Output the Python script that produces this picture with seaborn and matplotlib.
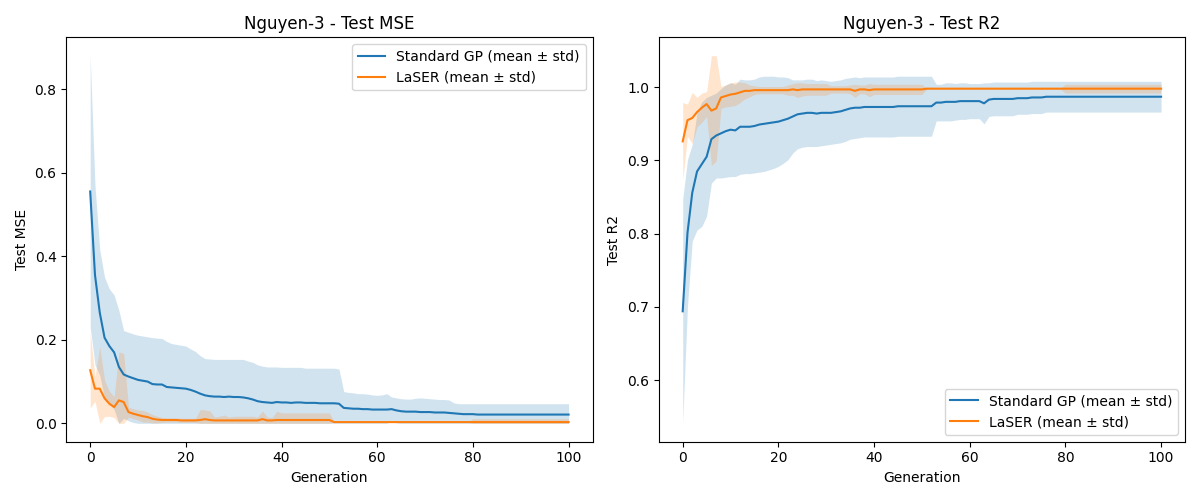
import numpy as np
import matplotlib
matplotlib.use("Agg")
import matplotlib.pyplot as plt
import seaborn as sns

generations = list(range(101))

# Test MSE - Standard GP
gp_mse_mean = [
    0.555, 0.355, 0.265, 0.205, 0.185, 0.170, 0.135, 0.117, 0.112, 0.108,
    0.104, 0.102, 0.100, 0.094, 0.093, 0.093, 0.087, 0.086, 0.085, 0.084,
    0.083, 0.080, 0.076, 0.071, 0.067, 0.065, 0.064, 0.064, 0.063, 0.064,
    0.063, 0.063, 0.062, 0.060, 0.057, 0.053, 0.051, 0.050, 0.049, 0.051,
    0.050, 0.050, 0.049, 0.050, 0.050, 0.049, 0.049, 0.049, 0.048, 0.048,
    0.048, 0.048, 0.047, 0.037, 0.036, 0.035, 0.035, 0.034, 0.034, 0.033,
    0.033, 0.033, 0.033, 0.034, 0.031, 0.029, 0.028, 0.028, 0.028, 0.027,
    0.027, 0.027, 0.026, 0.026, 0.026, 0.025, 0.024, 0.023, 0.022, 0.022,
    0.022, 0.021, 0.021, 0.021, 0.021, 0.021, 0.021, 0.021, 0.021, 0.021,
    0.021, 0.021, 0.021, 0.021, 0.021, 0.021, 0.021, 0.021, 0.021, 0.021,
    0.021,
]
gp_mse_std = [
    0.325, 0.215, 0.150, 0.145, 0.137, 0.137, 0.135, 0.105, 0.106, 0.106,
    0.107, 0.107, 0.107, 0.111, 0.111, 0.110, 0.109, 0.105, 0.104, 0.103,
    0.102, 0.098, 0.096, 0.091, 0.088, 0.089, 0.089, 0.089, 0.090, 0.089,
    0.090, 0.090, 0.091, 0.089, 0.089, 0.087, 0.086, 0.085, 0.086, 0.084,
    0.084, 0.084, 0.085, 0.084, 0.084, 0.083, 0.083, 0.083, 0.084, 0.084,
    0.084, 0.084, 0.083, 0.039, 0.038, 0.038, 0.036, 0.037, 0.036, 0.035,
    0.034, 0.035, 0.038, 0.029, 0.030, 0.030, 0.030, 0.030, 0.032, 0.034,
    0.033, 0.032, 0.032, 0.031, 0.031, 0.031, 0.025, 0.024, 0.025, 0.025,
    0.025, 0.026, 0.026, 0.026, 0.026, 0.026, 0.026, 0.026, 0.026, 0.026,
    0.026, 0.026, 0.026, 0.026, 0.026, 0.026, 0.026, 0.026, 0.026, 0.026,
    0.026,
]

# Test MSE - LaSER
laser_mse_mean = [
    0.127, 0.083, 0.083, 0.060, 0.047, 0.039, 0.055, 0.051, 0.027, 0.023,
    0.020, 0.017, 0.015, 0.011, 0.009, 0.008, 0.008, 0.008, 0.008, 0.007,
    0.007, 0.007, 0.007, 0.008, 0.010, 0.008, 0.007, 0.007, 0.007, 0.007,
    0.007, 0.007, 0.007, 0.007, 0.007, 0.007, 0.010, 0.007, 0.007, 0.008,
    0.008, 0.008, 0.008, 0.008, 0.008, 0.008, 0.008, 0.008, 0.008, 0.008,
    0.008, 0.003, 0.003, 0.003, 0.003, 0.003, 0.003, 0.003, 0.003, 0.003,
    0.003, 0.003, 0.003, 0.003, 0.003, 0.003, 0.003, 0.003, 0.003, 0.003,
    0.003, 0.003, 0.003, 0.003, 0.003, 0.003, 0.003, 0.003, 0.003, 0.003,
    0.003, 0.003, 0.003, 0.003, 0.003, 0.003, 0.003, 0.003, 0.003, 0.003,
    0.003, 0.003, 0.003, 0.003, 0.003, 0.003, 0.003, 0.003, 0.003, 0.003,
    0.003,
]
laser_mse_std = [
    0.090, 0.030, 0.100, 0.044, 0.030, 0.025, 0.116, 0.116, 0.012, 0.012,
    0.012, 0.014, 0.012, 0.010, 0.008, 0.006, 0.005, 0.005, 0.005, 0.005,
    0.005, 0.005, 0.005, 0.025, 0.022, 0.022, 0.008, 0.010, 0.013, 0.008,
    0.010, 0.010, 0.010, 0.010, 0.010, 0.008, 0.020, 0.008, 0.007, 0.021,
    0.017, 0.017, 0.017, 0.017, 0.017, 0.017, 0.017, 0.017, 0.017, 0.017,
    0.017, 0.001, 0.001, 0.001, 0.001, 0.001, 0.001, 0.001, 0.001, 0.001,
    0.001, 0.001, 0.001, 0.001, 0.001, 0.001, 0.001, 0.001, 0.001, 0.001,
    0.001, 0.001, 0.001, 0.001, 0.001, 0.001, 0.001, 0.001, 0.001, 0.001,
    0.008, 0.008, 0.008, 0.008, 0.008, 0.008, 0.008, 0.008, 0.008, 0.008,
    0.008, 0.008, 0.008, 0.008, 0.008, 0.008, 0.008, 0.008, 0.008, 0.008,
    0.008,
]

# Test R2 - Standard GP
gp_r2_mean = [
    0.694, 0.801, 0.856, 0.885, 0.895, 0.905, 0.929, 0.934, 0.937, 0.940,
    0.942, 0.941, 0.946, 0.946, 0.946, 0.947, 0.949, 0.950, 0.951, 0.952,
    0.953, 0.955, 0.957, 0.960, 0.963, 0.964, 0.965, 0.965, 0.964, 0.965,
    0.965, 0.965, 0.966, 0.967, 0.969, 0.971, 0.972, 0.972, 0.973, 0.973,
    0.973, 0.973, 0.973, 0.973, 0.973, 0.974, 0.974, 0.974, 0.974, 0.974,
    0.974, 0.974, 0.974, 0.979, 0.979, 0.980, 0.980, 0.980, 0.981, 0.981,
    0.981, 0.981, 0.981, 0.978, 0.983, 0.984, 0.984, 0.984, 0.984, 0.984,
    0.985, 0.985, 0.985, 0.986, 0.986, 0.986, 0.987, 0.987, 0.987, 0.987,
    0.987, 0.987, 0.987, 0.987, 0.987, 0.987, 0.987, 0.987, 0.987, 0.987,
    0.987, 0.987, 0.987, 0.987, 0.987, 0.987, 0.987, 0.987, 0.987, 0.987,
    0.987,
]
gp_r2_std = [
    0.153, 0.100, 0.066, 0.080, 0.085, 0.081, 0.060, 0.058, 0.061, 0.063,
    0.064, 0.063, 0.065, 0.064, 0.064, 0.064, 0.065, 0.065, 0.064, 0.063,
    0.061, 0.059, 0.056, 0.050, 0.047, 0.046, 0.046, 0.046, 0.045, 0.045,
    0.044, 0.043, 0.043, 0.043, 0.043, 0.042, 0.042, 0.041, 0.041, 0.041,
    0.041, 0.041, 0.041, 0.041, 0.041, 0.041, 0.041, 0.041, 0.041, 0.041,
    0.041, 0.041, 0.041, 0.025, 0.025, 0.026, 0.026, 0.025, 0.025, 0.025,
    0.024, 0.024, 0.024, 0.028, 0.023, 0.023, 0.023, 0.023, 0.023, 0.023,
    0.022, 0.022, 0.022, 0.022, 0.022, 0.022, 0.021, 0.021, 0.021, 0.021,
    0.021, 0.021, 0.021, 0.021, 0.021, 0.021, 0.021, 0.021, 0.021, 0.021,
    0.021, 0.021, 0.021, 0.021, 0.021, 0.021, 0.021, 0.021, 0.021, 0.021,
    0.021,
]

# Test R2 - LaSER
laser_r2_mean = [
    0.926, 0.955, 0.958, 0.966, 0.972, 0.977, 0.968, 0.971, 0.986, 0.988,
    0.990, 0.991, 0.993, 0.995, 0.995, 0.996, 0.996, 0.996, 0.996, 0.996,
    0.996, 0.996, 0.996, 0.997, 0.996, 0.997, 0.997, 0.997, 0.997, 0.997,
    0.997, 0.997, 0.997, 0.997, 0.997, 0.997, 0.995, 0.997, 0.997, 0.996,
    0.997, 0.997, 0.997, 0.997, 0.997, 0.997, 0.997, 0.997, 0.997, 0.997,
    0.997, 0.998, 0.998, 0.998, 0.998, 0.998, 0.998, 0.998, 0.998, 0.998,
    0.998, 0.998, 0.998, 0.998, 0.998, 0.998, 0.998, 0.998, 0.998, 0.998,
    0.998, 0.998, 0.998, 0.998, 0.998, 0.998, 0.998, 0.998, 0.998, 0.998,
    0.998, 0.998, 0.998, 0.998, 0.998, 0.998, 0.998, 0.998, 0.998, 0.998,
    0.998, 0.998, 0.998, 0.998, 0.998, 0.998, 0.998, 0.998, 0.998, 0.998,
    0.998,
]
laser_r2_std = [
    0.053, 0.022, 0.035, 0.020, 0.020, 0.017, 0.075, 0.072, 0.015, 0.015,
    0.016, 0.016, 0.014, 0.011, 0.008, 0.006, 0.005, 0.005, 0.005, 0.005,
    0.005, 0.005, 0.007, 0.008, 0.010, 0.009, 0.008, 0.008, 0.008, 0.008,
    0.008, 0.005, 0.005, 0.005, 0.005, 0.006, 0.009, 0.006, 0.006, 0.009,
    0.007, 0.007, 0.007, 0.007, 0.007, 0.007, 0.007, 0.007, 0.007, 0.007,
    0.007, 0.001, 0.001, 0.001, 0.001, 0.001, 0.001, 0.001, 0.001, 0.001,
    0.001, 0.001, 0.001, 0.001, 0.001, 0.001, 0.001, 0.001, 0.001, 0.001,
    0.001, 0.001, 0.001, 0.001, 0.001, 0.001, 0.001, 0.001, 0.001, 0.001,
    0.006, 0.006, 0.006, 0.006, 0.006, 0.006, 0.006, 0.006, 0.006, 0.006,
    0.006, 0.006, 0.006, 0.006, 0.006, 0.006, 0.006, 0.006, 0.006, 0.006,
    0.006,
]

gp_label = "Standard GP (mean \u00b1 std)"
laser_label = "LaSER (mean \u00b1 std)"


def draw_band(ax, mean, std, label, color, clip_zero=False):
    mean = np.array(mean)
    std = np.array(std)
    lower = mean - std
    if clip_zero:
        lower = np.maximum(lower, 0)
    sns.lineplot(x=generations, y=mean, label=label, color=color, ax=ax)
    ax.fill_between(generations, lower, mean + std, color=color, alpha=0.2, linewidth=0)


fig, axes = plt.subplots(1, 2, figsize=(12, 5))

ax = axes[0]
draw_band(ax, gp_mse_mean, gp_mse_std, gp_label, "C0", clip_zero=True)
draw_band(ax, laser_mse_mean, laser_mse_std, laser_label, "C1", clip_zero=True)
ax.set_title("Nguyen-3 - Test MSE")
ax.set_xlabel("Generation")
ax.set_ylabel("Test MSE")
ax.legend(loc="upper right")

ax = axes[1]
draw_band(ax, gp_r2_mean, gp_r2_std, gp_label, "C0")
draw_band(ax, laser_r2_mean, laser_r2_std, laser_label, "C1")
ax.set_title("Nguyen-3 - Test R2")
ax.set_xlabel("Generation")
ax.set_ylabel("Test R2")
ax.legend(loc="lower right")

plt.tight_layout()
plt.savefig("out.png", dpi=100)
plt.close()
